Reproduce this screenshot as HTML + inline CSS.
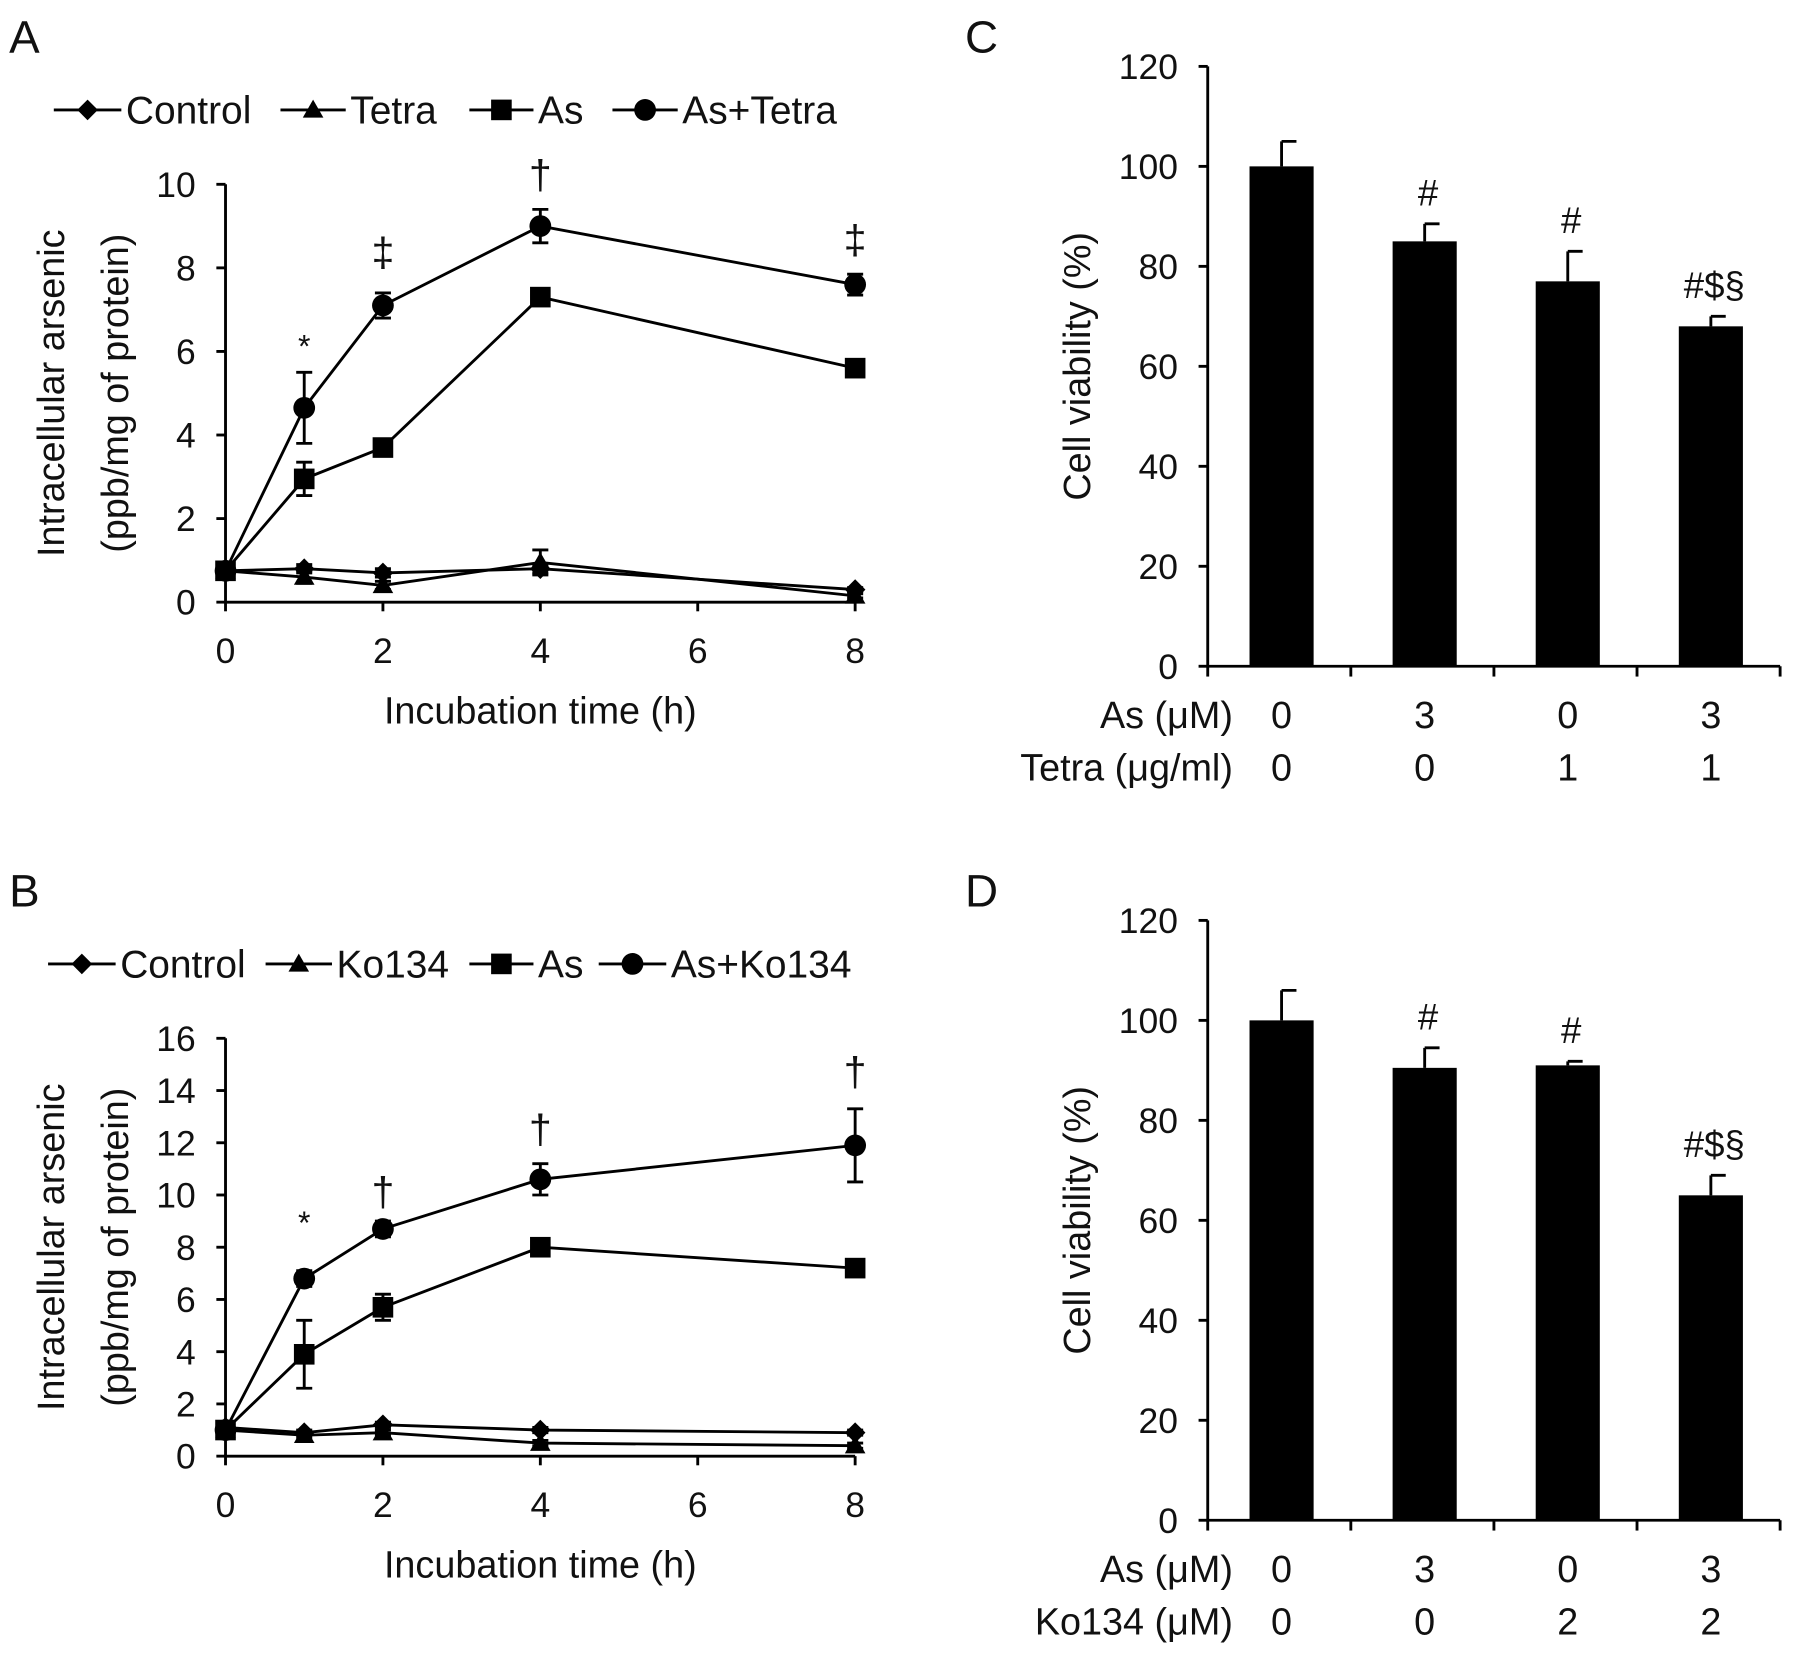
<!DOCTYPE html>
<html><head><meta charset="utf-8">
<style>
html,body{margin:0;padding:0;background:#fff;}
svg{display:block;font-family:"Liberation Sans",Arial,sans-serif;}
</style></head>
<body>
<svg id="fig" xmlns="http://www.w3.org/2000/svg" width="1795" height="1659" viewBox="0 0 1568 1449.2">
<rect width="1568" height="1449.2" fill="#fff"/>
</svg>
<script>
// ---- data ----
const times = [0, 1, 2, 4, 8];
const xTicks = [0, 2, 4, 6, 8];
const aTicks = [0, 2, 4, 6, 8, 10];
const bTicks = [0, 2, 4, 6, 8, 10, 12, 14, 16];
const barTicks = [0, 20, 40, 60, 80, 100, 120];

const aControl = [0.75, 0.8, 0.7, 0.8, 0.3];
const aControlErr = [0.1, 0.1, 0.1, 0.1, 0.05];
const aTetra = [0.75, 0.6, 0.4, 0.95, 0.15];
const aTetraErr = [0.1, 0.15, 0.1, 0.3, 0.05];
const aAs = [0.75, 2.95, 3.7, 7.3, 5.6];
const aAsErr = [0.1, 0.4, 0.1, 0.1, 0.1];
const aAsTetra = [0.75, 4.65, 7.1, 9.0, 7.6];
const aAsTetraErr = [0.15, 0.85, 0.3, 0.4, 0.25];
const aMarks = [["*", 1, 5.85], ["‡", 2, 8.05], ["†", 4, 9.9], ["‡", 8, 8.35]];

const bControl = [1.1, 0.9, 1.2, 1.0, 0.9];
const bControlErr = [0.1, 0.1, 0.1, 0.1, 0.1];
const bKo = [1.0, 0.8, 0.9, 0.5, 0.4];
const bKoErr = [0.1, 0.1, 0.1, 0.1, 0.1];
const bAs = [1.0, 3.9, 5.7, 8.0, 7.2];
const bAsErr = [0.2, 1.3, 0.5, 0.2, 0.2];
const bAsKo = [1.0, 6.8, 8.7, 10.6, 11.9];
const bAsKoErr = [0.2, 0.3, 0.3, 0.6, 1.4];
const bMarks = [["*", 1, 8.5], ["†", 2, 9.6], ["†", 4, 12.0], ["†", 8, 14.2]];

const cValues = [100, 85, 77, 68];
const cErr = [5, 3.5, 6, 2];
const cMarks = ["", "#", "#", "#$§"];
const cRow1 = ["0", "3", "0", "3"];
const cRow2 = ["0", "0", "1", "1"];

const dValues = [100, 90.5, 91, 65];
const dErr = [6, 4, 0.8, 4];
const dMarks = ["", "#", "#", "#$§"];
const dRow1 = ["0", "3", "0", "3"];
const dRow2 = ["0", "0", "2", "2"];

// ---- helpers ----
const svg = document.getElementById('fig');
const NS = 'http://www.w3.org/2000/svg';
function mk(tag, attrs, parent) {
  const e = document.createElementNS(NS, tag);
  for (const k in attrs) e.setAttribute(k, attrs[k]);
  (parent || svg).appendChild(e);
  return e;
}
function txt(s, x, y, size, anchor, parent, extra) {
  const t = mk('text', Object.assign({x: x, y: y, 'font-size': size, 'text-anchor': anchor || 'middle', fill: '#111'}, extra || {}), parent);
  t.textContent = s;
  return t;
}
function marker(type, x, y, g) {
  const r = 9;
  let m;
  if (type === 'diamond') m = mk('polygon', {points: `${x},${y-r} ${x+r},${y} ${x},${y+r} ${x-r},${y}`, fill: '#000'}, g);
  else if (type === 'triangle') m = mk('polygon', {points: `${x},${y-r} ${x+r},${y+r*0.75} ${x-r},${y+r*0.75}`, fill: '#000'}, g);
  else if (type === 'square') m = mk('rect', {x: x-r, y: y-r, width: 2*r, height: 2*r, fill: '#000'}, g);
  else m = mk('circle', {cx: x, cy: y, r: r+0.5, fill: '#000'}, g);
  return m;
}

function linePanel(cfg) {
  const g = mk('g', {});
  
  
  const X = v => cfg.x0 + (v / 8) * (cfg.x1 - cfg.x0);
  const Y = v => cfg.y0 - (v / cfg.ymax) * (cfg.y0 - cfg.y1);
  const pl = txt(cfg.label, cfg.labelX, cfg.labelY, 40, 'start', g);
  
  
  const ax = mk('g', {stroke: '#000', 'stroke-width': 2.5}, g);
  
  
  mk('line', {x1: cfg.x0, y1: Y(cfg.ymax), x2: cfg.x0, y2: cfg.y0}, ax);
  mk('line', {x1: cfg.x0, y1: cfg.y0, x2: X(8), y2: cfg.y0}, ax);
  cfg.yTicks.forEach(v => {
    mk('line', {x1: cfg.x0 - 8, y1: Y(v), x2: cfg.x0, y2: Y(v)}, ax);
    const t = txt(String(v), cfg.x0 - 26, Y(v) + 11, 31, 'end', g);
    
    
  });
  xTicks.forEach(v => {
    mk('line', {x1: X(v), y1: cfg.y0, x2: X(v), y2: cfg.y0 + 8}, ax);
    const t = txt(String(v), X(v), cfg.y0 + 53, 31, 'middle', g);
    
    
  });
  const xt = txt('Incubation time (h)', X(4), cfg.y0 + 106, 33, 'middle', g);
  
  
  const cy = (cfg.y0 + Y(cfg.ymax)) / 2;
  const yt1 = txt('Intracellular arsenic', 0, 0, 33, 'middle', g, {transform: `translate(56,${cy}) rotate(-90)`});
  
  
  const yt2 = txt('(ppb/mg of protein)', 0, 0, 33, 'middle', g, {transform: `translate(112,${cy}) rotate(-90)`});
  
  
  cfg.series.forEach(s => {
    const sg = mk('g', {}, g);
    
    
    const pts = times.map((t, i) => X(t) + ',' + Y(s.vals[i])).join(' ');
    mk('polyline', {points: pts, fill: 'none', stroke: '#000', 'stroke-width': 2.5}, sg);
    times.forEach((t, i) => {
      const x = X(t), e = s.err[i];
      const eb = mk('path', {d: `M${x},${Y(s.vals[i]-e)}V${Y(s.vals[i]+e)}M${x-7},${Y(s.vals[i]+e)}H${x+7}M${x-7},${Y(s.vals[i]-e)}H${x+7}`, stroke: '#000', 'stroke-width': 2.5, fill: 'none'}, sg);
      
      
      const m = marker(s.marker, x, Y(s.vals[i]), sg);
      
      
    });
  });
  cfg.marks.forEach(m => {
    const t = txt(m[0], X(m[1]), Y(m[2]), m[0] === '*' ? 28 : 36, 'middle', g);
    
    
  });
  const lg = mk('g', {}, g);
  
  
  cfg.legend.forEach(l => {
    const eg = mk('g', {}, lg);
    
    
    mk('line', {x1: l[1], y1: cfg.legY, x2: l[2], y2: cfg.legY, stroke: '#000', 'stroke-width': 2.5}, eg);
    marker(l[3], (l[1] + l[2]) / 2, cfg.legY, eg);
    txt(l[0], l[2] + 4, cfg.legY + 12, 34, 'start', eg);
  });
}

function barPanel(cfg) {
  const g = mk('g', {});
  
  
  const x0 = 1055, x1 = 1555;
  const Y = v => cfg.y0 - (v / 120) * (cfg.y0 - cfg.y1);
  const cw = (x1 - x0) / 4;
  const X = i => x0 + cw * (i + 0.5) + 2;
  const pl = txt(cfg.label, 843, cfg.labelY, 40, 'start', g);
  
  
  const ax = mk('g', {stroke: '#000', 'stroke-width': 2.5}, g);
  
  
  mk('line', {x1: x0, y1: Y(120), x2: x0, y2: cfg.y0}, ax);
  mk('line', {x1: x0, y1: cfg.y0, x2: x1, y2: cfg.y0}, ax);
  barTicks.forEach(v => {
    mk('line', {x1: x0 - 8, y1: Y(v), x2: x0, y2: Y(v)}, ax);
    const t = txt(String(v), x0 - 26, Y(v) + 11, 31, 'end', g);
    
    
  });
  for (let i = 0; i <= 4; i++) mk('line', {x1: x0 + cw * i, y1: cfg.y0, x2: x0 + cw * i, y2: cfg.y0 + 9}, ax);
  const cy = (cfg.y0 + Y(120)) / 2;
  const yt = txt('Cell viability (%)', 0, 0, 33, 'middle', g, {transform: `translate(952,${cy}) rotate(-90)`});
  
  
  cfg.values.forEach((v, i) => {
    const b = mk('rect', {x: X(i) - 28, y: Y(v), width: 56, height: cfg.y0 - Y(v), fill: '#000'}, g);
    
    
    const e = cfg.err[i];
    const eb = mk('path', {d: `M${X(i)},${Y(v)}V${Y(v+e)}M${X(i)},${Y(v+e)}H${X(i)+13}`, stroke: '#000', 'stroke-width': 2.5, fill: 'none'}, g);
    
    
    if (cfg.marks[i]) {
      const t = txt(cfg.marks[i], X(i) + 3, Y(v + e) - 16, 32, 'middle', g);
      
      
    }
    const r1 = txt(cfg.row1[i], X(i), cfg.y0 + 54, 33, 'middle', g);
    
    
    const r2 = txt(cfg.row2[i], X(i), cfg.y0 + 100, 33, 'middle', g);
    
    
  });
  const l1 = txt('As (μM)', 1077, cfg.y0 + 54, 33, 'end', g);
  
  
  const l2 = txt(cfg.row2Label, 1077, cfg.y0 + 100, 33, 'end', g);
  
  
}

linePanel({name: 'panel-a-line-chart', label: 'A', labelX: 8, labelY: 46, x0: 197, x1: 747, y0: 526, y1: 161, ymax: 10, yTicks: aTicks, legY: 96,
  series: [
    {key: 'control', vals: aControl, err: aControlErr, marker: 'diamond'},
    {key: 'tetra', vals: aTetra, err: aTetraErr, marker: 'triangle'},
    {key: 'as', vals: aAs, err: aAsErr, marker: 'square'},
    {key: 'as-tetra', vals: aAsTetra, err: aAsTetraErr, marker: 'circle'}],
  marks: aMarks,
  legend: [['Control', 47, 106, 'diamond'], ['Tetra', 245, 302, 'triangle'], ['As', 410, 466, 'square'], ['As+Tetra', 535, 592, 'circle']]});

linePanel({name: 'panel-b-line-chart', label: 'B', labelX: 8, labelY: 792, x0: 197, x1: 747, y0: 1272, y1: 907, ymax: 16, yTicks: bTicks, legY: 842,
  series: [
    {key: 'control', vals: bControl, err: bControlErr, marker: 'diamond'},
    {key: 'ko134', vals: bKo, err: bKoErr, marker: 'triangle'},
    {key: 'as', vals: bAs, err: bAsErr, marker: 'square'},
    {key: 'as-ko134', vals: bAsKo, err: bAsKoErr, marker: 'circle'}],
  marks: bMarks,
  legend: [['Control', 42, 101, 'diamond'], ['Ko134', 232, 290, 'triangle'], ['As', 410, 466, 'square'], ['As+Ko134', 523, 582, 'circle']]});

barPanel({name: 'panel-c-bar-chart', label: 'C', labelY: 46, y0: 582, y1: 58, values: cValues, err: cErr, marks: cMarks, row1: cRow1, row2: cRow2, row2Label: 'Tetra (μg/ml)'});
barPanel({name: 'panel-d-bar-chart', label: 'D', labelY: 792, y0: 1328, y1: 804, values: dValues, err: dErr, marks: dMarks, row1: dRow1, row2: dRow2, row2Label: 'Ko134 (μM)'});
</script>
</body></html>
